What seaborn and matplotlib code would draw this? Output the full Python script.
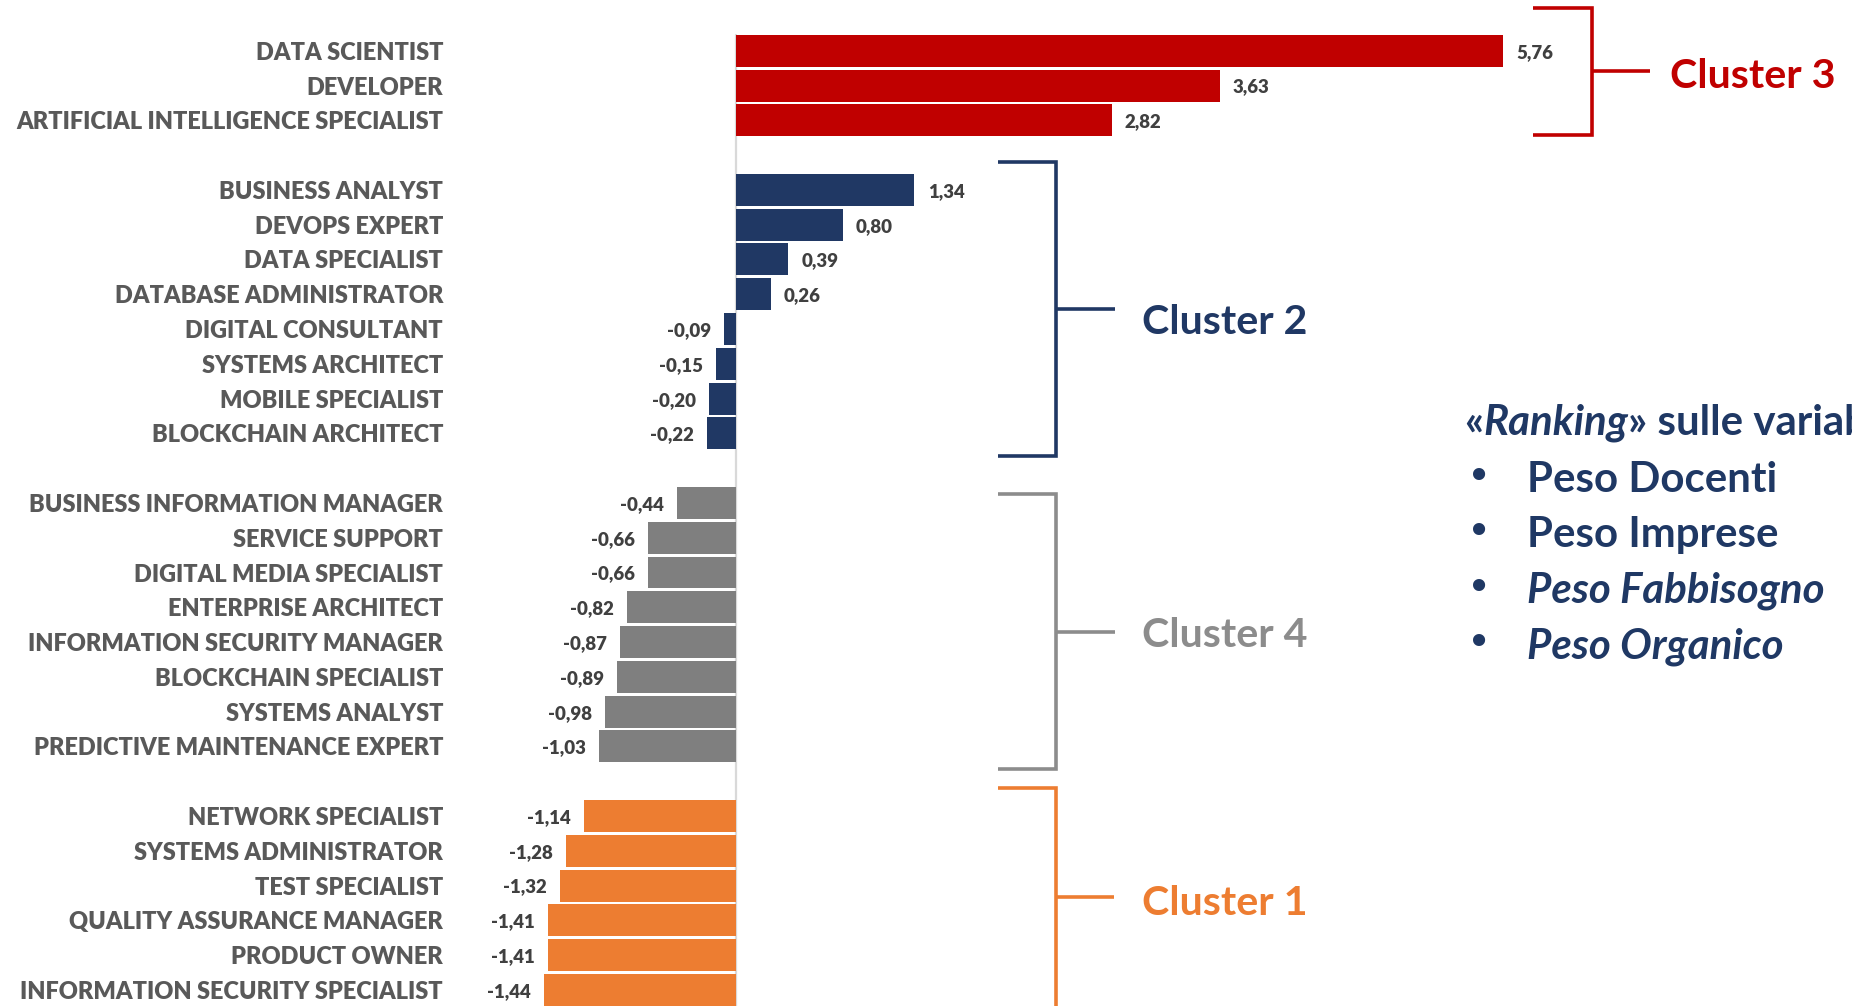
import numpy as np
import pandas as pd
import matplotlib
matplotlib.use("Agg")
import matplotlib.pyplot as plt
import seaborn as sns
from matplotlib import font_manager as fm
from matplotlib.textpath import TextPath

# ---------------- data ----------------
cluster3_roles = ["DATA SCIENTIST", "DEVELOPER", "ARTIFICIAL INTELLIGENCE SPECIALIST"]
cluster3_values = [5.76, 3.63, 2.82]

cluster2_roles = ["BUSINESS ANALYST", "DEVOPS EXPERT", "DATA SPECIALIST", "DATABASE ADMINISTRATOR",
                  "DIGITAL CONSULTANT", "SYSTEMS ARCHITECT", "MOBILE SPECIALIST", "BLOCKCHAIN ARCHITECT"]
cluster2_values = [1.34, 0.80, 0.39, 0.26, -0.09, -0.15, -0.20, -0.22]

cluster4_roles = ["BUSINESS INFORMATION MANAGER", "SERVICE SUPPORT", "DIGITAL MEDIA SPECIALIST",
                  "ENTERPRISE ARCHITECT", "INFORMATION SECURITY MANAGER", "BLOCKCHAIN SPECIALIST",
                  "SYSTEMS ANALYST", "PREDICTIVE MAINTENANCE EXPERT"]
cluster4_values = [-0.44, -0.66, -0.66, -0.82, -0.87, -0.89, -0.98, -1.03]

cluster1_roles = ["NETWORK SPECIALIST", "SYSTEMS ADMINISTRATOR", "TEST SPECIALIST",
                  "QUALITY ASSURANCE MANAGER", "PRODUCT OWNER", "INFORMATION SECURITY SPECIALIST"]
cluster1_values = [-1.14, -1.28, -1.32, -1.41, -1.41, -1.44]

cluster_names = ["Cluster 3", "Cluster 2", "Cluster 4", "Cluster 1"]
heading_parts = ["«", "Ranking", "» sulle variabili"]
bullet_items = ["Peso Docenti", "Peso Imprese", "Peso Fabbisogno", "Peso Organico"]
bullet_italic = [False, False, True, True]

# ---------------- styles ----------------
colors = {"Cluster 3": "#C00000", "Cluster 2": "#203864",
          "Cluster 4": "#7F7F7F", "Cluster 1": "#ED7D31"}
label_colors = {"Cluster 3": "#C00000", "Cluster 2": "#203864",
                "Cluster 4": "#8C8C8C", "Cluster 1": "#ED7D31"}
NAVY = "#1F3864"

groups = [(cluster_names[0], cluster3_roles, cluster3_values),
          (cluster_names[1], cluster2_roles, cluster2_values),
          (cluster_names[2], cluster4_roles, cluster4_values),
          (cluster_names[3], cluster1_roles, cluster1_values)]

rows = []
pos = 0
for name, roles, vals in groups:
    for r, v in zip(roles, vals):
        rows.append({"role": r, "value": v, "cluster": name, "pos": pos})
        pos += 1
    pos += 1  # empty slot between clusters
df = pd.DataFrame(rows)

# ---------------- font choice: the sans bold face closest to a Calibri-like proportion ----
WHITELIST = ["Liberation Sans Narrow", "Liberation Sans", "DejaVu Sans", "Noto Sans",
             "Open Sans", "Roboto", "Roboto Condensed", "Lato", "Inter", "Open Sans Condensed"]


def wval(w):
    if isinstance(w, (int, float)):
        return w
    return fm.weight_dict.get(w, 400)


def measure_ratio(fp, s):
    try:
        w = TextPath((0, 0), s, size=100, prop=fp).get_extents().width
        h = TextPath((0, 0), "H", size=100, prop=fp).get_extents().height
        return w / h
    except Exception:
        return None


sample = "ARTIFICIAL INTELLIGENCE SPECIALIST"
target_ratio = 428.0 / 18.0
best = None
seen = set()
for f in fm.fontManager.ttflist:
    if f.name not in WHITELIST or f.style != "normal" or wval(f.weight) < 600:
        continue
    key = (f.name, f.stretch)
    if key in seen:
        continue
    seen.add(key)
    fp = fm.FontProperties(family=f.name, weight="bold", stretch=f.stretch)
    r = measure_ratio(fp, sample)
    if r is None:
        continue
    score = abs(r - target_ratio)
    if best is None or score < best[0]:
        best = (score, f.name, f.stretch)

if best is None:
    FAMILY, STRETCH = "DejaVu Sans", "normal"
else:
    FAMILY, STRETCH = best[1], best[2]

sns.set_theme(style="white")
plt.rcParams["font.family"] = [FAMILY, "DejaVu Sans"]


def FP(size, italic=False, weight="bold"):
    return fm.FontProperties(family=FAMILY, weight=weight, stretch=STRETCH,
                             style="italic" if italic else "normal", size=size)


W, H = 1852, 1006
fig = plt.figure(figsize=(W / 100, H / 100), dpi=100)
renderer = fig.canvas.get_renderer()


def fit_size(text, target_px, italic=False, weight="bold"):
    t = fig.text(0, 0, text, fontproperties=FP(100, italic, weight))
    w = t.get_window_extent(renderer=renderer).width
    t.remove()
    return 100.0 * target_px / w


SMALL_W = 800  # heavier face for the small labels (Calibri bold looks dense)

# layout in pixels
zero_px = 736.0
px_per_unit = 133.2
row0_px = 50.8
pitch_px = 34.78
ax_left_px = 455.0

ax = fig.add_axes([ax_left_px / W, 0, 1 - ax_left_px / W, 1])
sns.barplot(data=df, x="value", y="pos", hue="cluster", hue_order=cluster_names,
            palette=colors, orient="h", native_scale=True, width=0.92, dodge=False,
            saturation=1, errorbar=None, legend=False, linewidth=0, ax=ax)

ax.set_xlim((ax_left_px - zero_px) / px_per_unit, (W - zero_px) / px_per_unit)
ax.set_ylim(27 + (H - (row0_px + 27 * pitch_px)) / pitch_px, -row0_px / pitch_px)

for s in ax.spines.values():
    s.set_visible(False)
ax.set_xticks([])
ax.set_xlabel("")
ax.set_ylabel("")

lab_size = fit_size(sample, 428, weight=SMALL_W)
ax.set_yticks(df["pos"].tolist())
ax.set_yticklabels(df["role"].tolist(), fontproperties=FP(lab_size, weight=SMALL_W),
                   color="#595959")
ax.tick_params(axis="y", length=0, pad=8.6)

# zero axis line
top_frac = 1 - 35.0 / H
ax.axvline(0, ymin=0, ymax=top_frac, color="#D9D9D9", lw=1.6, zorder=0)

val_size = fit_size("5,76", 37, weight=SMALL_W)
for cont in ax.containers:
    texts = ax.bar_label(cont, fmt=lambda v: f"{v:.2f}".replace(".", ","), padding=9.5,
                         fontproperties=FP(val_size, weight=SMALL_W), color="#404040")
    for t in texts:
        t.set_verticalalignment("center_baseline")

# ---------------- overlay for brackets & texts ----------------
ov = fig.add_axes([0, 0, 1, 1], facecolor="none")
ov.set_xlim(0, W)
ov.set_ylim(H, 0)
ov.axis("off")

brackets = {  # left x, vertical x, tick end x, top y, bottom y, tick y, text x, text baseline
    "Cluster 3": (1533, 1592, 1650, 8, 135, 71, 1670, 88),
    "Cluster 2": (998, 1056, 1115, 162, 456, 309, 1142, 334),
    "Cluster 4": (998, 1056, 1115, 494, 769, 632, 1142, 647),
    "Cluster 1": (998, 1056, 1114, 788, 1010, 897, 1142, 915),
}
cl_size = fit_size("Cluster 3", 165)
for name in cluster_names:
    lx, vx, tx, ty, by, my, txt_x, base = brackets[name]
    c = label_colors[name]
    ov.plot([lx, vx, vx, lx], [ty, ty, by, by], color=c, lw=2.6,
            solid_joinstyle="miter", solid_capstyle="butt")
    ov.plot([vx, tx], [my, my], color=c, lw=2.6, solid_capstyle="butt")
    ov.text(txt_x, base, name, color=c, fontproperties=FP(cl_size),
            ha="left", va="baseline")

# right-hand text block
item_size = fit_size("Peso Docenti", 250)
ital_size = min(item_size, fit_size("Peso Fabbisogno", 318, italic=True))
t1 = ov.text(1464, 435, heading_parts[0], color=NAVY, fontproperties=FP(item_size),
             ha="left", va="baseline")
t2 = ov.annotate(heading_parts[1], xy=(1, 0), xycoords=t1, color=NAVY,
                 fontproperties=FP(item_size, italic=True), ha="left", va="bottom")
t3 = ov.annotate(heading_parts[2], xy=(1, 0), xycoords=t2, color=NAVY,
                 fontproperties=FP(item_size), ha="left", va="bottom")

baselines = [492, 547, 603, 658]
for item, it, b in zip(bullet_items, bullet_italic, baselines):
    ov.text(1468, b - 5, "•", color=NAVY, fontproperties=FP(item_size * 0.82),
            ha="left", va="baseline", family=["DejaVu Sans"])
    ov.text(1527, b, item, color=NAVY,
            fontproperties=FP(ital_size if it else item_size, italic=it),
            ha="left", va="baseline")

fig.savefig("out.png", dpi=100)
